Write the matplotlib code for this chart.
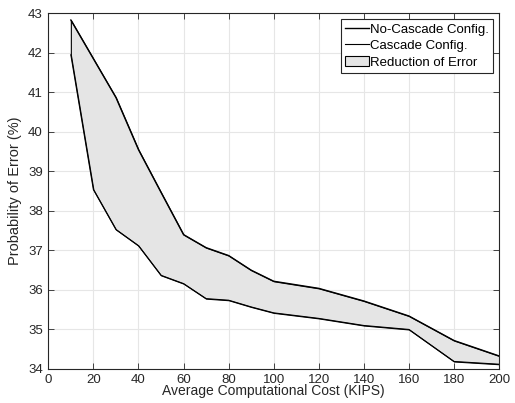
import matplotlib
matplotlib.use("Agg")
import matplotlib.pyplot as plt
from matplotlib.patches import Patch

cost = [10, 20, 30, 40, 50, 60, 70, 80, 90, 100, 120, 140, 160, 180, 200]
no_cascade = [42.83, 41.85, 40.87, 39.55, 38.47, 37.40, 37.07, 36.87, 36.50, 36.22, 36.04, 35.72, 35.34, 34.72, 34.33]
cascade = [41.95, 38.54, 37.53, 37.12, 36.37, 36.16, 35.78, 35.74, 35.57, 35.42, 35.28, 35.10, 35.00, 34.19, 34.12]

xticks = list(range(0, 201, 20))
yticks = list(range(34, 44))

plt.rcParams['font.family'] = ['Liberation Sans', 'DejaVu Sans']

fig = plt.figure(figsize=(5.15, 4.03), dpi=100)
ax = fig.add_axes([0.0938, 0.0844, 0.8753, 0.8826])

ax.fill_between(cost, no_cascade, cascade, facecolor='#e5e5e5', edgecolor='black',
                linewidth=0.8, zorder=2)
l1, = ax.plot(cost, no_cascade, color='black', lw=1.0, zorder=3)
l2, = ax.plot(cost, cascade, color='black', lw=0.8, zorder=3)
patch = Patch(facecolor='#e5e5e5', edgecolor='black', linewidth=0.8)

ax.set_xlim(0, 200)
ax.set_ylim(34, 43)
ax.set_xticks(xticks)
ax.set_yticks(yticks)
ax.tick_params(direction='in', length=4, width=0.6, top=True, right=True,
               labelsize=9.5, colors='#262626')
ax.tick_params(axis='x', pad=3.5)
ax.tick_params(axis='y', pad=4)
ax.grid(True, color='#e6e6e6', lw=0.8, zorder=0)
ax.set_axisbelow(True)
for s in ax.spines.values():
    s.set_color('#262626')
    s.set_linewidth(0.8)

ax.set_xlabel('Average Computational Cost (KIPS)', fontsize=10, labelpad=-1, color='#262626')
ax.set_ylabel('Probability of Error (%)', fontsize=10.5, labelpad=4, color='#262626')

leg = ax.legend([l1, l2, patch], ['No-Cascade Config.', 'Cascade Config.', 'Reduction of Error'],
                loc='upper right', bbox_to_anchor=(0.986, 0.984), fontsize=9.5, frameon=True,
                fancybox=False, edgecolor='#262626', framealpha=1, handlelength=1.8,
                handleheight=0.8, handletextpad=0.1, borderpad=0.3, labelspacing=0.3,
                borderaxespad=0.0)
leg.get_frame().set_linewidth(0.8)

fig.savefig('out.png', dpi=100)
